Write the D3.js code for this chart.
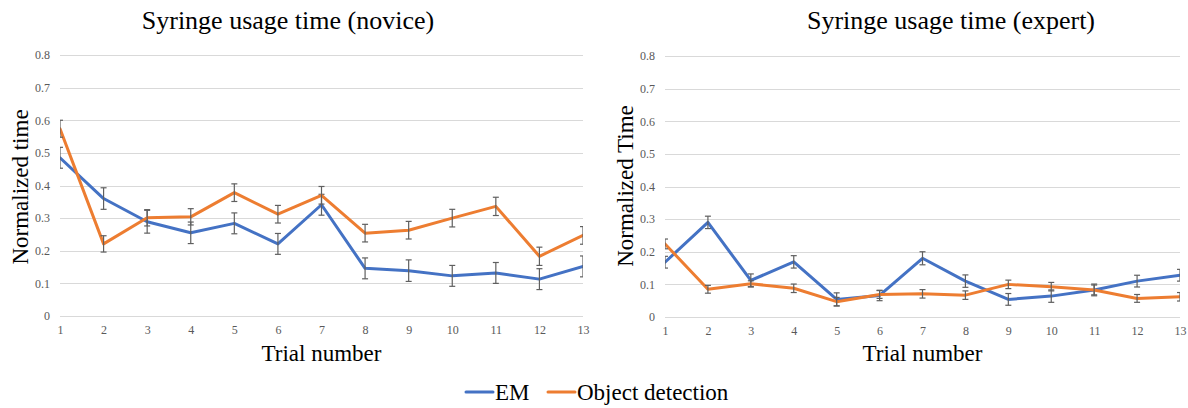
<!DOCTYPE html>
<html><head><meta charset="utf-8">
<script src="https://cdn.jsdelivr.net/npm/d3@7/dist/d3.min.js"></script>
<style>body{margin:0;background:#fff}svg{display:block}</style>
</head><body>
<svg id="c" width="1188" height="408"></svg>
<script>
const trials = [1,2,3,4,5,6,7,8,9,10,11,12,13];
const yTicks = [0,0.1,0.2,0.3,0.4,0.5,0.6,0.7,0.8];
const seriesNames = ["EM","Object detection"];
const colors = ["#4472C4","#ED7D31"];

const noviceEM     = [0.485,0.360,0.289,0.255,0.284,0.221,0.341,0.146,0.139,0.123,0.132,0.113,0.152];
const noviceEMErr  = [0.032,0.033,0.035,0.033,0.032,0.032,0.032,0.032,0.033,0.032,0.032,0.032,0.032];
const noviceOD     = [0.574,0.221,0.301,0.304,0.378,0.312,0.370,0.254,0.263,0.300,0.336,0.183,0.247];
const noviceODErr  = [0.026,0.025,0.025,0.025,0.027,0.027,0.027,0.027,0.027,0.027,0.028,0.028,0.027];

const expertEM     = [0.168,0.290,0.112,0.169,0.054,0.066,0.180,0.110,0.054,0.064,0.083,0.110,0.128];
const expertEMErr  = [0.018,0.019,0.020,0.019,0.020,0.016,0.020,0.019,0.018,0.019,0.018,0.018,0.018];
const expertOD     = [0.224,0.085,0.102,0.088,0.047,0.069,0.071,0.067,0.100,0.093,0.083,0.057,0.062];
const expertODErr  = [0.015,0.012,0.009,0.013,0.013,0.012,0.013,0.013,0.013,0.013,0.015,0.012,0.013];

const svg = d3.select("#c");
const serif = "'Liberation Serif','Times New Roman',serif";

const panels = [
  {title:"Syringe usage time (novice)", ylab:"Normalized time", x0:60, x1:583, y0:316, y1:55,
   titleX:288, ylabX:28, ylabY:187,
   series:[[noviceEM,noviceEMErr],[noviceOD,noviceODErr]], id:"p0"},
  {title:"Syringe usage time (expert)", ylab:"Normalized Time", x0:665, x1:1180, y0:317, y1:56,
   titleX:951, ylabX:633, ylabY:186,
   series:[[expertEM,expertEMErr],[expertOD,expertODErr]], id:"p1"}
];

panels.forEach(p => {
  const x = d3.scaleLinear().domain([1,13]).range([p.x0,p.x1]);
  const y = d3.scaleLinear().domain([0,0.8]).range([p.y0,p.y1]);
  const g = svg.append("g");

  svg.append("clipPath").attr("id","clip"+p.id).append("rect")
    .attr("x",p.x0).attr("y",p.y1-2).attr("width",p.x1-p.x0).attr("height",p.y0-p.y1+4);

  // gridlines
  g.append("g").selectAll("line").data(yTicks).join("line")
    .attr("x1",p.x0).attr("x2",p.x1)
    .attr("y1",d=>Math.round(y(d))+0.5).attr("y2",d=>Math.round(y(d))+0.5)
    .attr("stroke","#d9d9d9").attr("stroke-width",1);

  // y axis labels
  const ya = d3.axisLeft(y).tickValues(yTicks).tickFormat(d=>d===0?"0":d3.format(".1f")(d)).tickSize(0).tickPadding(10);
  const yg = g.append("g").attr("transform",`translate(${p.x0},0)`).call(ya)
    .attr("font-family",serif).attr("font-size",12);
  yg.select(".domain").remove();
  yg.selectAll("text").attr("font-family",serif).attr("font-size",12).attr("fill","#595959");

  // x axis labels
  const xa = d3.axisBottom(x).tickValues(trials).tickFormat(d3.format("d")).tickSize(0).tickPadding(9);
  const xg = g.append("g").attr("transform",`translate(0,${p.y0})`).call(xa)
    .attr("font-family",serif).attr("font-size",12);
  xg.select(".domain").remove();
  xg.selectAll("text").attr("font-family",serif).attr("font-size",12).attr("fill","#595959");

  // series
  const line = d3.line().x((d,i)=>x(trials[i])).y(d=>y(d));
  p.series.forEach(([vals,errs],si) => {
    const sg = g.append("g").attr("clip-path",`url(#clip${p.id})`);
    sg.append("path").datum(vals).attr("d",line).attr("fill","none")
      .attr("stroke",colors[si]).attr("stroke-width",3)
      .attr("stroke-linejoin","round").attr("stroke-linecap","round");
    const eb = sg.append("g").attr("stroke","#5f5f5f").attr("stroke-width",1.2).attr("fill","none");
    vals.forEach((v,i) => {
      const cx = x(trials[i]), top = y(v+errs[i]), bot = y(v-errs[i]);
      eb.append("line").attr("x1",cx).attr("x2",cx).attr("y1",top).attr("y2",bot);
      eb.append("line").attr("x1",cx-3).attr("x2",cx+3).attr("y1",top).attr("y2",top);
      eb.append("line").attr("x1",cx-3).attr("x2",cx+3).attr("y1",bot).attr("y2",bot);
    });
  });

  // titles
  g.append("text").attr("x",p.titleX).attr("y",29).attr("text-anchor","middle")
    .attr("font-family",serif).attr("font-size",26).attr("fill","#000").text(p.title);
  g.append("text").attr("transform",`translate(${p.ylabX},${p.ylabY}) rotate(-90)`)
    .attr("text-anchor","middle").attr("font-family",serif).attr("font-size",23).attr("fill","#000").text(p.ylab);
  g.append("text").attr("x",(p.x0+p.x1)/2).attr("y",361).attr("text-anchor","middle")
    .attr("font-family",serif).attr("font-size",23).attr("fill","#000").text("Trial number");
});

// legend
const legendItems = [{x:466},{x:548}];
const lg = svg.append("g");
seriesNames.forEach((n,i) => {
  const lx = legendItems[i].x;
  lg.append("line").attr("x1",lx).attr("x2",lx+27).attr("y1",392).attr("y2",392)
    .attr("stroke",colors[i]).attr("stroke-width",3).attr("stroke-linecap","round");
  lg.append("text").attr("x",lx+29).attr("y",400).attr("font-family",serif).attr("font-size",23)
    .attr("fill","#000").text(n);
});
</script>
</body></html>
